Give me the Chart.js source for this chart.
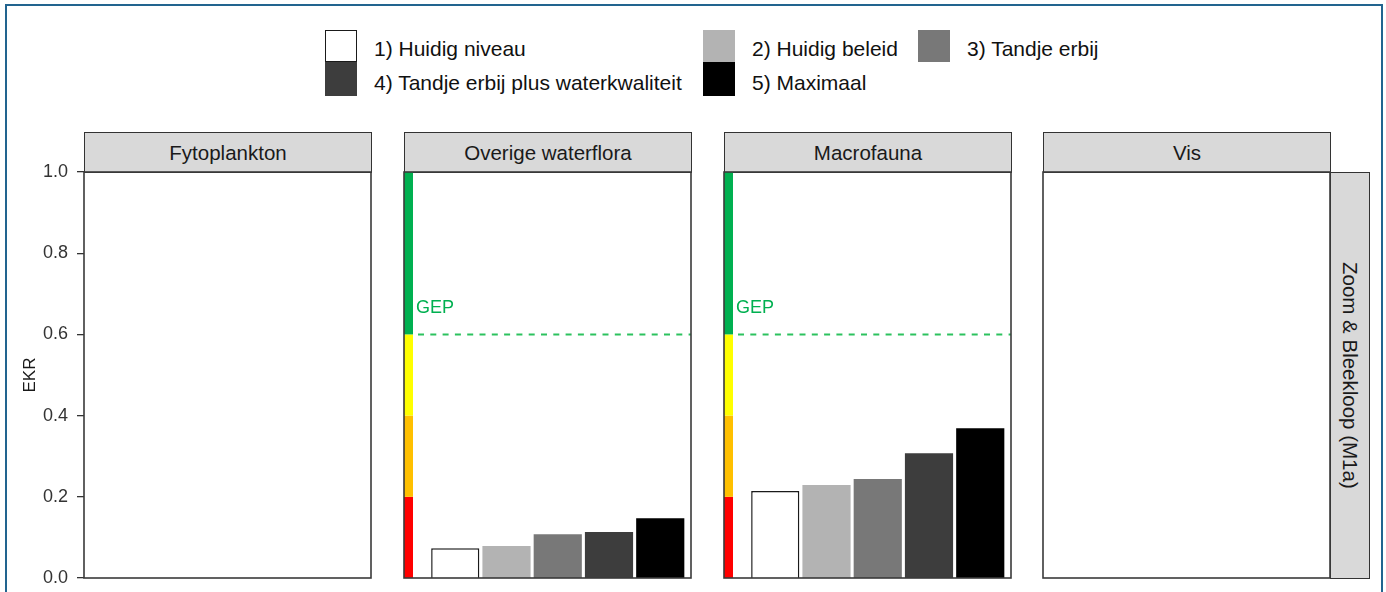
<!DOCTYPE html>
<html>
<head>
<meta charset="utf-8">
<script src="https://cdn.jsdelivr.net/npm/chart.js@4.4.1/dist/chart.umd.min.js"></script>
<style>
  html, body { margin: 0; padding: 0; background: #fff; }
  body { width: 1386px; height: 592px; overflow: hidden; position: relative;
         font-family: "Liberation Sans", Arial, sans-serif; }
  #frame { position: absolute; left: 5px; top: 4px; width: 1378px; height: 640px;
           border: 2.5px solid #22648f; box-sizing: border-box; }
  .strip { position: absolute; background: #d9d9d9; border: 1.5px solid #333;
           box-sizing: border-box; display: flex; align-items: center; justify-content: center;
           color: #1a1a1a; font-size: 20.5px; white-space: nowrap; }
  .strip.vertical span { writing-mode: vertical-rl; }
  .key { position: absolute; box-sizing: border-box; width: 32px; }
  .ltext { position: absolute; font-size: 21px; color: #111; white-space: nowrap; line-height: 1; }
  canvas { position: absolute; }
</style>
</head>
<body>
<div id="frame"></div>
<div id="stage"></div>
<script>
// ---- data ----
const panelTitles = ['Fytoplankton', 'Overige waterflora', 'Macrofauna', 'Vis'];
const rowLabel = 'Zoom & Bleekloop (M1a)';
const yTitle = 'EKR';
const scenarios = ['1) Huidig niveau', '2) Huidig beleid', '3) Tandje erbij',
                   '4) Tandje erbij plus waterkwaliteit', '5) Maximaal'];
const scenarioColors = ['#ffffff', '#b3b3b3', '#787878', '#3d3d3d', '#000000'];

const fytoplankton      = [null, null, null, null, null];
const overigeWaterflora = [0.073, 0.079, 0.108, 0.113, 0.147];
const macrofauna        = [0.214, 0.229, 0.244, 0.307, 0.369];
const vis               = [null, null, null, null, null];

const gepValues = [null, 0.6, 0.6, null];
const gepLabel = 'GEP';
const ekrBounds = [0, 0.2, 0.4, 0.6, 1.0];
const ekrColors = ['#ff0000', '#ffc000', '#ffff00', '#00b050'];
const yTicks = [0, 0.2, 0.4, 0.6, 0.8, 1.0];

// ---- layout ----
const panelSeries = [fytoplankton, overigeWaterflora, macrofauna, vis];
const panelLeft = [84, 404, 724, 1043];
const panelWidth = 287;
const plotTop = 172, plotBottom = 578, stripTop = 132;
const padV = 24;  // room above/below the plot area inside each canvas
const FONT = '"Liberation Sans", Arial, sans-serif';
Chart.defaults.font.family = FONT;

const stage = document.getElementById('stage');

// facet strips
panelTitles.forEach((t, i) => {
  const d = document.createElement('div');
  d.className = 'strip';
  d.style.left = panelLeft[i] + 'px';
  d.style.top = stripTop + 'px';
  d.style.width = (panelWidth + 1) + 'px';
  d.style.height = (plotTop - stripTop + 1) + 'px';
  d.textContent = t;
  stage.appendChild(d);
});
const rs = document.createElement('div');
rs.className = 'strip vertical';
rs.style.left = (panelLeft[3] + panelWidth) + 'px';
rs.style.top = plotTop + 'px';
rs.style.width = '40px';
rs.style.height = (plotBottom - plotTop + 1) + 'px';
rs.innerHTML = '<span></span>';
rs.firstChild.textContent = rowLabel;
stage.appendChild(rs);

// legend
const legendCols = [325, 703, 918];
const legendRows = [30, 62];
scenarios.forEach((s, i) => {
  const col = i % 3, row = Math.floor(i / 3);
  const k = document.createElement('div');
  k.className = 'key';
  k.style.left = legendCols[col] + 'px';
  k.style.top = legendRows[row] + 'px';
  k.style.height = (row === 0 ? 32 : 34) + 'px';
  k.style.background = scenarioColors[i];
  if (i === 0) k.style.border = '1.5px solid #1a1a1a';
  stage.appendChild(k);
  const t = document.createElement('div');
  t.className = 'ltext';
  t.style.left = (legendCols[col] + 49) + 'px';
  t.style.top = (legendRows[row] + (row === 0 ? 8 : 10)) + 'px';
  t.textContent = s;
  stage.appendChild(t);
});

// ---- plugins ----
const ekrClasses = {
  id: 'ekrClasses',
  beforeDatasetsDraw(chart, args, opts) {
    if (!opts.show) return;
    const { ctx, chartArea, scales: { y } } = chart;
    ctx.save();
    for (let i = 0; i < ekrColors.length; i++) {
      const top = y.getPixelForValue(ekrBounds[i + 1]);
      const bot = y.getPixelForValue(ekrBounds[i]);
      ctx.fillStyle = ekrColors[i];
      ctx.fillRect(chartArea.left, top, opts.width, bot - top);
    }
    ctx.restore();
  }
};

const gepLine = {
  id: 'gepLine',
  afterDatasetsDraw(chart, args, opts) {
    if (opts.value == null) return;
    const { ctx, chartArea, scales: { y } } = chart;
    const py = y.getPixelForValue(opts.value);
    ctx.save();
    ctx.strokeStyle = '#2cc25e';
    ctx.lineWidth = 2;
    ctx.setLineDash([6, 6.3]);
    ctx.beginPath();
    ctx.moveTo(chartArea.left + opts.offset + 5, py);
    ctx.lineTo(chartArea.right, py);
    ctx.stroke();
    ctx.setLineDash([]);
    ctx.fillStyle = '#00b050';
    ctx.font = '18px ' + FONT;
    ctx.textBaseline = 'middle';
    ctx.fillText(opts.label, chartArea.left + opts.offset + 3, y.getPixelForValue(opts.value + 0.065));
    ctx.restore();
  }
};

const panelBorder = {
  id: 'panelBorder',
  afterDraw(chart) {
    const { ctx, chartArea: a } = chart;
    ctx.save();
    ctx.strokeStyle = '#3a3a3a';
    ctx.lineWidth = 1.6;
    ctx.strokeRect(a.left, a.top, a.right - a.left, a.bottom - a.top);
    ctx.restore();
  }
};

// ---- panels ----
panelTitles.forEach((title, p) => {
  const first = p === 0;
  const cLeft = first ? 0 : panelLeft[p] - 2;
  const cWidth = first ? panelLeft[0] + panelWidth + 2 : panelWidth + 4;
  const cv = document.createElement('canvas');
  cv.width = cWidth;
  cv.height = plotBottom - plotTop + 2 * padV;
  cv.style.left = cLeft + 'px';
  cv.style.top = (plotTop - padV) + 'px';
  stage.appendChild(cv);

  const values = panelSeries[p];
  const hasData = values.some(v => v != null);

  new Chart(cv, {
    type: 'bar',
    data: {
      datasets: [{
        label: title,
        data: values.map((v, i) => ({ x: i + 1, y: v })),
        backgroundColor: scenarioColors,
        borderColor: scenarioColors.map((c, i) => i === 0 ? '#1a1a1a' : c),
        borderWidth: scenarioColors.map((c, i) => i === 0 ? 1.5 : 0),
        barPercentage: 0.94,
        categoryPercentage: 1.0
      }]
    },
    options: {
      responsive: false,
      animation: false,
      events: [],
      layout: { padding: { left: first ? 0 : 2, right: 2, top: padV, bottom: padV } },
      plugins: {
        legend: { display: false },
        tooltip: { enabled: false },
        ekrClasses: { show: hasData, width: 9 },
        gepLine: { value: gepValues[p], label: gepLabel, offset: 9 }
      },
      scales: {
        x: {
          type: 'linear', min: 0, max: 5.6, offset: false, display: false,
          grid: { offset: false },
          afterBuildTicks: s => { s.ticks = scenarios.map((_, i) => ({ value: i + 1 })); }
        },
        y: {
          type: 'linear', min: 0, max: 1, display: first,
          afterBuildTicks: s => { s.ticks = yTicks.map(v => ({ value: v })); },
          afterFit: s => { if (first) s.width = panelLeft[0]; },
          ticks: { callback: v => v.toFixed(1), color: '#333', font: { size: 18 }, padding: 9 },
          grid: { drawOnChartArea: false, drawTicks: true, tickLength: 7, color: '#333', lineWidth: 1.3 },
          border: { display: false },
          title: { display: true, text: yTitle, color: '#1a1a1a', font: { size: 17 }, padding: { top: 20, bottom: 0 } }
        }
      }
    },
    plugins: [ekrClasses, gepLine, panelBorder]
  });
});
</script>
</body>
</html>
